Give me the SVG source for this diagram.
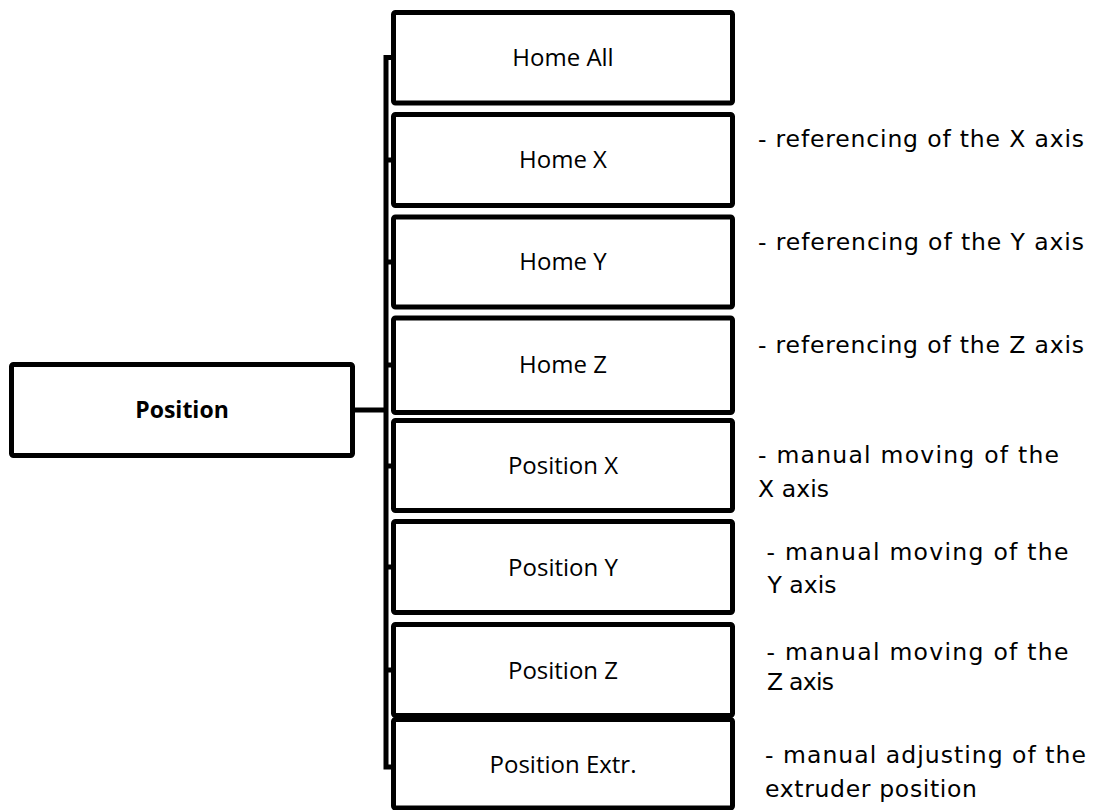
<svg xmlns="http://www.w3.org/2000/svg" width="1097" height="810" viewBox="0 0 1097 810">
<style>
.box{fill:#fff;stroke:#000;stroke-width:5}
.lbl{font-family:"Open Sans","Liberation Sans",sans-serif;font-size:24px;fill:#000;text-anchor:middle}
.bold{font-weight:bold;font-size:23px}
.desc{font-family:"DejaVu Sans","Liberation Sans",sans-serif;font-size:23.5px;fill:#000}
.con{fill:none;stroke:#000;stroke-width:5}
</style>
<rect width="1097" height="810" fill="#fff"/>
<g id="connectors">
<path class="con" d="M393.5 57.5 H386 V767 H393.5"/>
<path class="con" d="M352.5 410 H386"/>
<path class="con" d="M386 160 H393.5 M386 262 H393.5 M386 365 H393.5 M386 466 H393.5 M386 567 H393.5 M386 670 H393.5"/>
</g>
<g id="position">
<rect class="box" x="11.5" y="364.5" width="341" height="91" rx="2"/>
<text class="lbl bold" x="182" y="418">Position</text>
</g>
<g id="home-all">
<rect class="box" x="393.5" y="12.5" width="339" height="90.5" rx="2"/>
<text class="lbl" x="563" y="66">Home All</text>
</g>
<g id="home-x">
<rect class="box" x="393.5" y="114.5" width="339" height="91" rx="2"/>
<text class="lbl" x="563" y="168">Home X</text>
<text class="desc" x="758" y="147" textLength="326" lengthAdjust="spacing">- referencing of the X axis</text>
</g>
<g id="home-y">
<rect class="box" x="393.5" y="217" width="339" height="90" rx="2"/>
<text class="lbl" x="563" y="270">Home Y</text>
<text class="desc" x="758" y="250" textLength="326" lengthAdjust="spacing">- referencing of the Y axis</text>
</g>
<g id="home-z">
<rect class="box" x="393.5" y="318" width="339" height="94.5" rx="2"/>
<text class="lbl" x="563" y="373">Home Z</text>
<text class="desc" x="758" y="353" textLength="326" lengthAdjust="spacing">- referencing of the Z axis</text>
</g>
<g id="position-x">
<rect class="box" x="393.5" y="420.5" width="339" height="90" rx="2"/>
<text class="lbl" x="563" y="474">Position X</text>
<text class="desc" x="758" y="463" textLength="301" lengthAdjust="spacing">- manual moving of the</text>
<text class="desc" x="758" y="497" textLength="71" lengthAdjust="spacing">X axis</text>
</g>
<g id="position-y">
<rect class="box" x="393.5" y="521.5" width="339" height="91" rx="2"/>
<text class="lbl" x="563" y="576">Position Y</text>
<text class="desc" x="766.5" y="560" textLength="302" lengthAdjust="spacing">- manual moving of the</text>
<text class="desc" x="767.5" y="593" textLength="69" lengthAdjust="spacing">Y axis</text>
</g>
<g id="position-z">
<rect class="box" x="393.5" y="624.5" width="339" height="91" rx="2"/>
<text class="lbl" x="563" y="679">Position Z</text>
<text class="desc" x="766.5" y="660" textLength="302" lengthAdjust="spacing">- manual moving of the</text>
<text class="desc" x="767" y="690" textLength="67" lengthAdjust="spacing">Z axis</text>
</g>
<g id="position-extr">
<rect class="box" x="393.5" y="719.5" width="339" height="88.5" rx="2"/>
<text class="lbl" x="563" y="773">Position Extr.</text>
<text class="desc" x="765" y="763" textLength="321" lengthAdjust="spacing">- manual adjusting of the</text>
<text class="desc" x="765" y="797" textLength="212" lengthAdjust="spacing">extruder position</text>
</g>
</svg>
